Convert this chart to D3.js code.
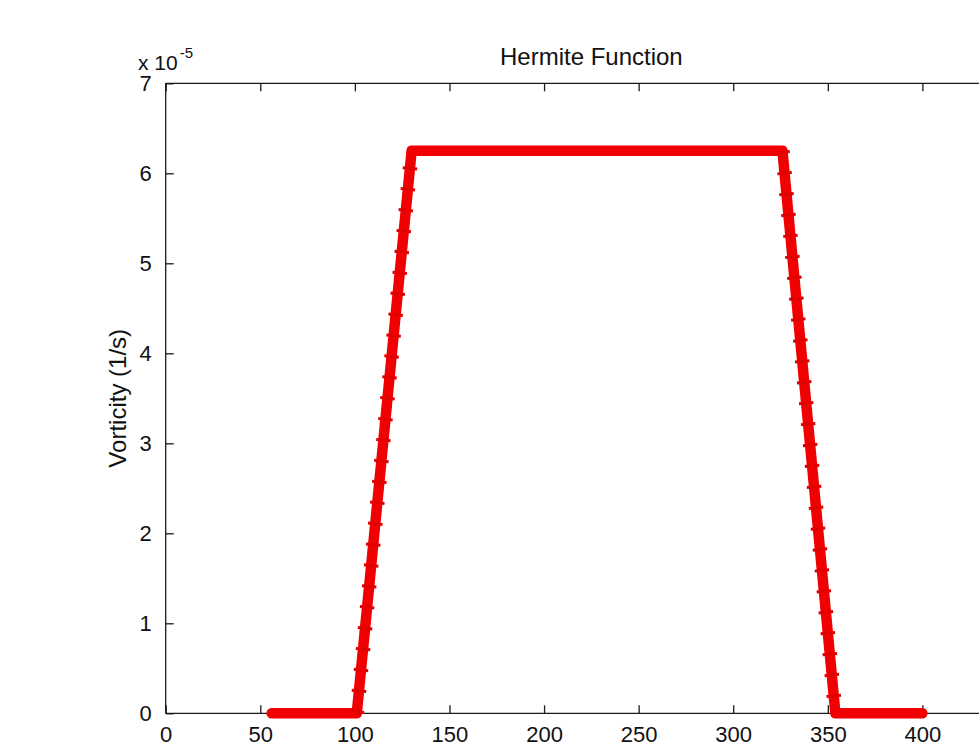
<!DOCTYPE html>
<html>
<head>
<meta charset="utf-8">
<script src="https://cdn.jsdelivr.net/npm/d3@7"></script>
<style>
    body { margin: 0; background: #fff; overflow: hidden; }
    svg text { font-family: "Liberation Sans", Arial, sans-serif; fill: #111; }
</style>
</head>
<body>
<svg id="chart" width="979" height="748"></svg>
<script>
// Breakpoints of the curve (x, vorticity in 1e-5 1/s)
const curveX = [56, 101, 130, 326, 354, 400];
const curveY = [0, 0, 6.25, 6.25, 0, 0];
const xTicks = [0, 50, 100, 150, 200, 250, 300, 350, 400];
const yTicks = [0, 1, 2, 3, 4, 5, 6, 7];
const titleText = 'Hermite Function';
const yLabelText = 'Vorticity (1/s)';

const svg = d3.select('svg#chart');

// axes box (right side runs past the window edge, like the reference crop)
const plotLeft = 165.7, plotRight = 1017, plotTop = 83.3, plotBottom = 713.3;
const tickLen = 8,
    fontSize = 22,
    lineColor = '#f00000',
    lineWidth = 10.5;

const x = d3.scaleLinear().domain([0, 450]).range([plotLeft, plotRight]);
const y = d3.scaleLinear().domain([0, 7]).range([plotBottom, plotTop]);

const points = curveX.map((d, i) => ({ x: d, y: curveY[i] }));

// Axes frame
const axisColor = '#1a1a1a';
svg.append('line').attr('x1', plotLeft).attr('x2', plotRight).attr('y1', plotBottom).attr('y2', plotBottom)
    .attr('stroke', axisColor).attr('stroke-width', 1.3);
svg.append('line').attr('x1', plotLeft).attr('x2', plotRight).attr('y1', plotTop).attr('y2', plotTop)
    .attr('stroke', axisColor).attr('stroke-width', 1.3);
svg.append('line').attr('x1', plotLeft).attr('x2', plotLeft).attr('y1', plotTop).attr('y2', plotBottom)
    .attr('stroke', axisColor).attr('stroke-width', 1.3);

// Bottom axis with inward ticks
const xAxis = d3.axisBottom(x).tickValues(xTicks).tickSizeInner(-tickLen).tickSizeOuter(0).tickPadding(13);
const gx = svg.append('g').attr('transform', `translate(0,${plotBottom})`).call(xAxis);
gx.select('.domain').remove();
gx.selectAll('line').attr('stroke', axisColor).attr('stroke-width', 1.3);
gx.selectAll('text').style('font-size', fontSize + 'px').attr('fill', '#111');

// Top axis ticks only
const xTop = d3.axisTop(x).tickValues(xTicks).tickSizeInner(-tickLen).tickSizeOuter(0).tickFormat('');
const gxt = svg.append('g').attr('transform', `translate(0,${plotTop})`).call(xTop);
gxt.select('.domain').remove();
gxt.selectAll('line').attr('stroke', axisColor).attr('stroke-width', 1.3);

// Left axis
const yAxis = d3.axisLeft(y).tickValues(yTicks).tickFormat(d3.format('d'))
    .tickSizeInner(-tickLen).tickSizeOuter(0).tickPadding(14);
const gy = svg.append('g').attr('transform', `translate(${plotLeft},0)`).call(yAxis);
gy.select('.domain').remove();
gy.selectAll('line').attr('stroke', axisColor).attr('stroke-width', 1.3);
gy.selectAll('text').style('font-size', fontSize + 'px').attr('fill', '#111');

// Exponent label "x 10^-5"
const expo = svg.append('text').attr('x', 138).attr('y', 70).style('font-size', '21px');
expo.append('tspan').text('x 10');
expo.append('tspan').attr('dy', -12).attr('dx', 2).style('font-size', '15px').text('-5');

// Title
svg.append('text')
    .attr('x', (plotLeft + plotRight) / 2).attr('y', 65)
    .attr('text-anchor', 'middle')
    .style('font-size', '24px')
    .text(titleText);

// Y label
svg.append('text')
    .attr('transform', `translate(126,${(plotTop + plotBottom) / 2}) rotate(-90)`)
    .attr('text-anchor', 'middle')
    .style('font-size', '24px')
    .text(yLabelText);

// Curve: thick red line (overlapping '*' markers in the original)
const line = d3.line().x(d => x(d.x)).y(d => y(d.y));
svg.append('path')
    .datum(points)
    .attr('d', line)
    .attr('fill', 'none')
    .attr('stroke', lineColor)
    .attr('stroke-width', lineWidth)
    .attr('stroke-linejoin', 'round')
    .attr('stroke-linecap', 'round');

// Marker bumps on the sloped parts
const slopes = [points.slice(1, 3), points.slice(3, 5)];
slopes.forEach(seg => {
    svg.append('path')
        .datum(seg)
        .attr('d', line)
        .attr('fill', 'none')
        .attr('stroke', '#e00000')
        .attr('stroke-width', lineWidth + 4)
        .attr('stroke-dasharray', '3 18');
});
</script>
</body>
</html>
